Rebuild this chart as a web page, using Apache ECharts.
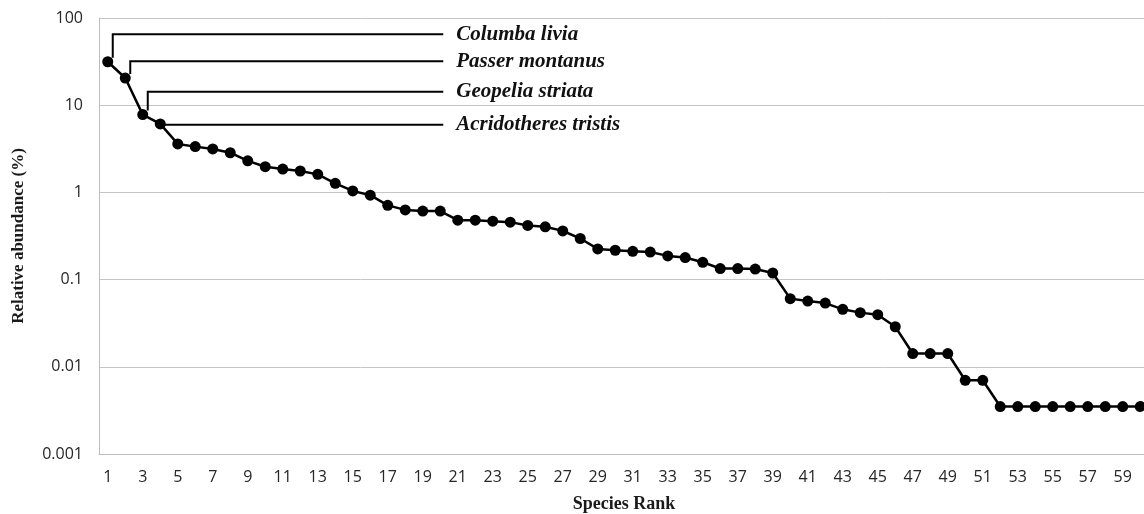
<!DOCTYPE html>
<html>
<head>
<meta charset="utf-8">
<title>Species rank abundance</title>
<script src="https://cdn.jsdelivr.net/npm/echarts@6/dist/echarts.min.js"></script>
<style>
  html, body { margin: 0; padding: 0; background: #ffffff; }
  #chart { width: 1144px; height: 514px; }
</style>
</head>
<body>
<div id="chart"></div>
<script>
// Species rank (x categories)
const ranks = [
  '1','2','3','4','5','6','7','8','9','10',
  '11','12','13','14','15','16','17','18','19','20',
  '21','22','23','24','25','26','27','28','29','30',
  '31','32','33','34','35','36','37','38','39','40',
  '41','42','43','44','45','46','47','48','49','50',
  '51','52','53','54','55','56','57','58','59','60'
];

// Relative abundance (%) of each ranked species
const abundance = [
  31.5, 20.5, 7.8, 6.1, 3.6, 3.35, 3.15, 2.85, 2.3, 1.97,
  1.85, 1.76, 1.61, 1.27, 1.04, 0.93, 0.71, 0.63, 0.61, 0.61,
  0.48, 0.48, 0.468, 0.456, 0.418, 0.403, 0.362, 0.296, 0.225, 0.217,
  0.211, 0.207, 0.187, 0.179, 0.158, 0.134, 0.134, 0.132, 0.119, 0.0605,
  0.0568, 0.0538, 0.0456, 0.0418, 0.0396, 0.0288, 0.0142, 0.0142, 0.0142, 0.007,
  0.007, 0.0035, 0.0035, 0.0035, 0.0035, 0.0035, 0.0035, 0.0035, 0.0035, 0.0035
];

// Labelled dominant species and their ranks
const speciesNames = ['Columba livia', 'Passer montanus', 'Geopelia striata', 'Acridotheres tristis'];
const speciesRanks = [1, 2, 3, 4];

// Y axis tick labels, one per decade from 0.001 to 100
const yTickLabels = ['0.001', '0.01', '0.1', '1', '10', '100'];

// ---- layout of the species callouts ----
// height (in % units) of each callout's horizontal leader
const leaderLevel = [65, 32, 14.3, 5.95];
const leaderEndIndex = 19;      // leaders run to the rank-20 column
const leaderEndPad = 3;         // ... plus a few pixels
const leaderDx = 5;             // vertical stub offset from the marker centre
const labelGap = 13;            // gap between leader end and the species name

const calloutData = speciesRanks.map((r, i) => ({
  name: speciesNames[i],
  value: [r - 1, abundance[r - 1], leaderLevel[i]]
}));

const chart = echarts.init(document.getElementById('chart'), null, { renderer: 'canvas' });

const axisFont = '"Open Sans", "Liberation Sans", sans-serif';
const titleFont = '"Liberation Serif", "DejaVu Serif", serif';

chart.setOption({
  animation: false,
  backgroundColor: '#ffffff',
  grid: {
    left: 99, right: -5, top: 18, bottom: 60,
    containLabel: false,
    outerBoundsMode: 'none'
  },
  xAxis: {
    type: 'category',
    data: ranks,
    boundaryGap: true,
    axisLine: { show: true, lineStyle: { color: '#bdbdbd', width: 1 } },
    axisTick: { show: false },
    axisLabel: {
      interval: 1,
      margin: 15,
      color: '#262626',
      fontFamily: axisFont,
      fontSize: 16
    },
    splitLine: { show: false },
    name: 'Species Rank',
    nameLocation: 'middle',
    nameGap: 41,
    nameTextStyle: {
      fontFamily: titleFont,
      fontWeight: 'bold',
      fontSize: 18,
      color: '#1a1a1a'
    }
  },
  yAxis: {
    type: 'log',
    logBase: 10,
    min: 0.001,
    max: 100,
    axisLine: { show: true, lineStyle: { color: '#bdbdbd', width: 1 } },
    axisTick: { show: false },
    splitLine: { show: true, lineStyle: { color: '#c6c6c6', width: 1 } },
    axisLabel: {
      margin: 16,
      color: '#262626',
      fontFamily: axisFont,
      fontSize: 16,
      formatter: v => yTickLabels[Math.round(Math.log10(v)) + 3]
    },
    name: 'Relative abundance (%)',
    nameLocation: 'middle',
    nameGap: 72,
    nameTextStyle: {
      fontFamily: titleFont,
      fontWeight: 'bold',
      fontSize: 17,
      color: '#1a1a1a'
    }
  },
  series: [
    {
      type: 'custom',
      name: 'callouts',
      z: 1,
      silent: true,
      data: calloutData,
      renderItem: (params, api) => {
        const idx = api.value(0);
        const pt = api.coord([idx, api.value(1)]);
        const lvl = api.coord([idx, api.value(2)]);
        const endX = api.coord([leaderEndIndex, api.value(2)])[0] + leaderEndPad;
        const x0 = pt[0] + leaderDx;
        const points = lvl[1] < pt[1] - 3
          ? [[x0, pt[1] - 4], [x0, lvl[1]], [endX, lvl[1]]]
          : [[pt[0] + 4, lvl[1]], [endX, lvl[1]]];
        return {
          type: 'group',
          children: [
            {
              type: 'polyline',
              shape: { points: points },
              style: { stroke: '#000000', lineWidth: 2, fill: null }
            },
            {
              type: 'text',
              x: endX + labelGap,
              y: lvl[1],
              style: {
                text: calloutData[params.dataIndex].name,
                font: 'italic bold 21px "Liberation Serif", "DejaVu Serif", serif',
                fill: '#111111',
                verticalAlign: 'middle',
                align: 'left'
              }
            }
          ]
        };
      }
    },
    {
      type: 'line',
      name: 'Relative abundance',
      z: 3,
      data: abundance,
      symbol: 'circle',
      symbolSize: 11,
      showSymbol: true,
      itemStyle: { color: '#000000' },
      lineStyle: { color: '#000000', width: 2.5 }
    }
  ]
});
</script>
</body>
</html>
